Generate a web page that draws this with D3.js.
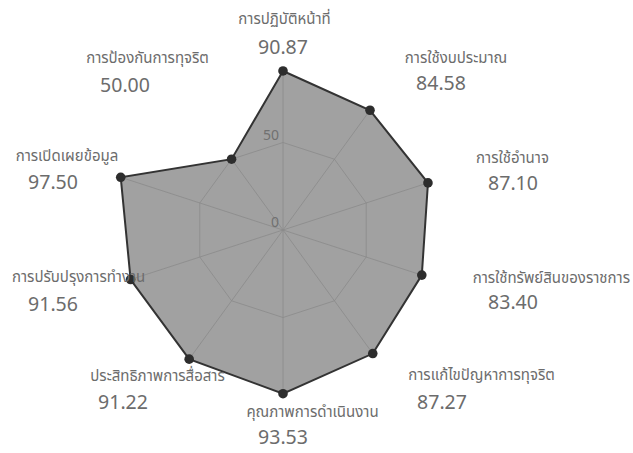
<!DOCTYPE html>
<html><head><meta charset="utf-8">
<script src="https://cdn.jsdelivr.net/npm/d3@7"></script>
<style>
html,body{margin:0;padding:0;background:#fff;}
svg{display:block;}
text{font-family:"Noto Sans Thai","Noto Sans","DejaVu Sans",sans-serif;}
</style></head><body>
<svg id="c" width="633" height="453"></svg>
<script>
const categories = ["การปฏิบัติหน้าที่","การใช้งบประมาณ","การใช้อำนาจ","การใช้ทรัพย์สินของราชการ","การแก้ไขปัญหาการทุจริต","คุณภาพการดำเนินงาน","ประสิทธิภาพการสื่อสาร","การปรับปรุงการทำงาน","การเปิดเผยข้อมูล","การป้องกันการทุจริต"];
const values = [90.87, 84.58, 87.10, 83.40, 87.27, 93.53, 91.22, 91.56, 97.50, 50.00];
const valueLabels = ["90.87","84.58","87.10","83.40","87.27","93.53","91.22","91.56","97.50","50.00"];
const tickValues = [0, 50];

const svg = d3.select("#c");
const cx = 283, cy = 230, R = 175;
const r = d3.scaleLinear().domain([0, 100]).range([0, R]);
const ang = d3.scaleLinear().domain([0, categories.length]).range([0, 2*Math.PI]);
const pt = (i, v) => [cx + r(v)*Math.sin(ang(i)), cy - r(v)*Math.cos(ang(i))];

const g = svg.append("g");
const line = d3.line().curve(d3.curveLinearClosed);
g.append("path").attr("d", line(values.map((v,i)=>pt(i,v))))
  .attr("fill","#a1a1a1").attr("stroke","none");
values.forEach((v,i)=>{
  const [x,y]=pt(i,v);
  g.append("line").attr("x1",cx).attr("y1",cy).attr("x2",x).attr("y2",y)
   .attr("stroke","#8a8a8a").attr("stroke-width",0.8);
});
tickValues.filter(t=>t>0).forEach(t=>{
  g.append("path").attr("d", line(categories.map((c,i)=>pt(i,t))))
   .attr("fill","none").attr("stroke","#8a8a8a").attr("stroke-width",0.8);
});
g.append("path").attr("d", line(values.map((v,i)=>pt(i,v))))
  .attr("fill","none").attr("stroke","#333").attr("stroke-width",2);
values.forEach((v,i)=>{
  const [x,y]=pt(i,v);
  g.append("circle").attr("cx",x).attr("cy",y).attr("r",4.8).attr("fill","#2d2d2d");
});
tickValues.forEach(t=>{
  g.append("text").attr("x",cx-4).attr("y",cy - r(t) - 3).attr("text-anchor","end")
   .attr("font-size",14).attr("fill","#707070").text(t);
});
// [label x, label baseline, anchor, value center x, value baseline]
const labelPos = [
  [284.5,24,"middle", 283,54],
  [456,63,"middle", 441,90],
  [512.5,163,"middle", 513,190],
  [630,283,"end", 513,309],
  [481.5,380,"middle", 442,409],
  [312.5,417,"middle", 283,444],
  [157.5,381,"middle", 123,409],
  [12,282,"start", 53,311],
  [67,161,"middle", 53,189],
  [147.5,63,"middle", 125,92]
];
categories.forEach((c,i)=>{
  const p = labelPos[i];
  g.append("text").attr("x",p[0]).attr("y",p[1]).attr("text-anchor",p[2])
   .attr("font-size",15).attr("fill","#6c6c6c").text(c);
  g.append("text").attr("x",p[3]).attr("y",p[4]).attr("text-anchor","middle")
   .attr("font-size",19.5).attr("fill","#6c6c6c").text(valueLabels[i]);
});
</script></body></html>
